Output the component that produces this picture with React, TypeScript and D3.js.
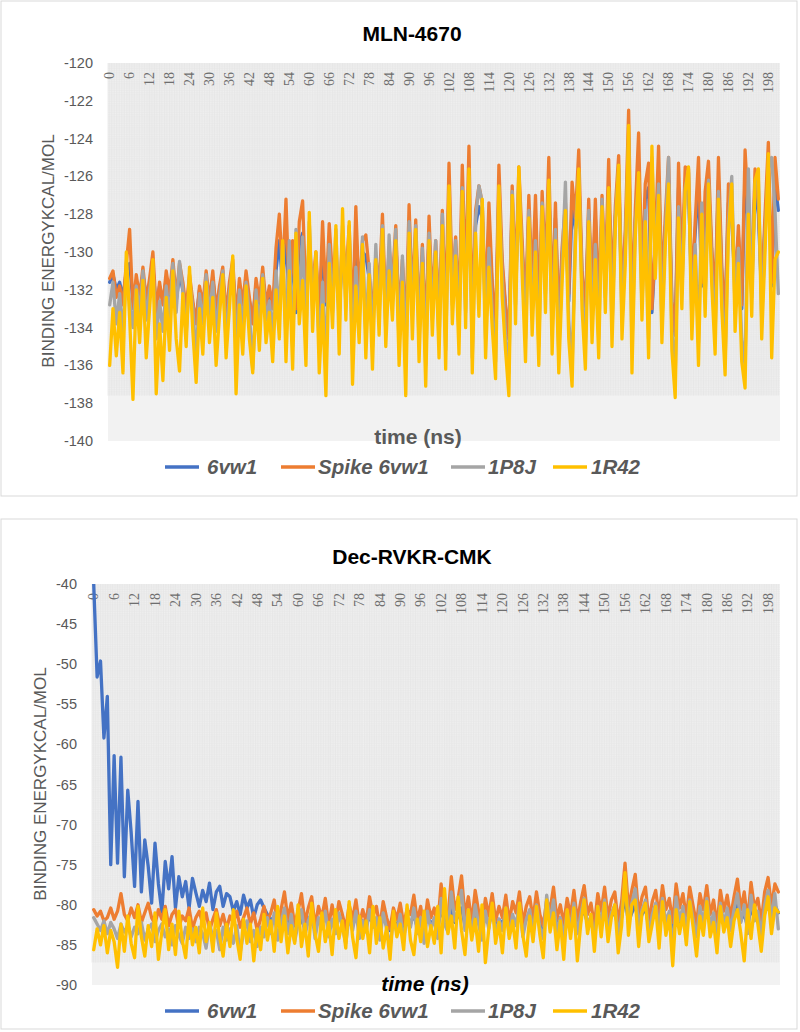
import React from "react";
import * as d3 from "d3";

// ---------- DATA ----------
const seriesNames = ["6vw1", "Spike 6vw1", "1P8J", "1R42"];
const xTickLabels = [0, 6, 12, 18, 24, 30, 36, 42, 48, 54, 60, 66, 72, 78, 84, 90, 96, 102, 108, 114, 120, 126, 132, 138, 144, 150, 156, 162, 168, 174, 180, 186, 192, 198];
const mlnYTicks = [-120, -122, -124, -126, -128, -130, -132, -134, -136, -138, -140];
const decYTicks = [-40, -45, -50, -55, -60, -65, -70, -75, -80, -85, -90];

// MLN-4670
const mlnBlue = [
  -131.6, -131.2, -132.0, -131.6, -132.4, -131.0, -130.6, -132.6, -131.6, -132.2,
  -131.2, -132.4, -131.8, -130.8, -133.0, -131.8, -132.6, -131.4, -132.4, -131.0,
  -132.6, -131.2, -132.0, -133.2, -131.6, -132.8, -133.6, -132.0, -132.8, -131.6,
  -132.8, -131.4, -133.0, -132.0, -131.4, -133.2, -132.0, -131.0, -133.4, -131.8,
  -132.8, -131.6, -132.6, -133.6, -131.8, -132.8, -131.4, -132.8, -132.0, -133.0,
  -131.0, -129.4, -131.8, -129.0, -132.8, -130.2, -133.2, -129.6, -129.0, -132.6,
  -130.2, -132.0, -130.6, -133.6, -129.6, -132.8, -129.6, -131.8, -130.4, -133.2,
  -129.8, -131.8, -129.6, -134.0, -129.0, -132.6, -130.0, -130.2, -131.4, -133.6,
  -130.8, -132.2, -129.4, -133.4, -130.2, -131.8, -129.4, -133.6, -130.8, -134.2,
  -129.0, -132.8, -129.4, -133.8, -130.2, -134.4, -129.2, -133.0, -130.0, -133.8,
  -129.0, -133.6, -127.0, -132.2, -129.8, -133.4, -127.2, -132.0, -126.6, -134.0,
  -128.6, -127.6, -128.2, -133.2, -128.4, -132.0, -134.2, -127.0, -130.8, -133.0,
  -134.6, -127.6, -131.8, -127.0, -130.0, -133.4, -128.0, -132.2, -128.2, -133.6,
  -128.0, -131.4, -126.6, -133.2, -128.2, -134.0, -130.2, -128.2, -132.6, -127.6,
  -128.8, -126.0, -131.4, -133.4, -128.0, -132.6, -128.2, -133.2, -128.0, -131.8,
  -126.6, -132.4, -128.2, -126.2, -132.6, -129.4, -124.6, -133.4, -128.4, -125.4,
  -131.6, -127.2, -126.6, -133.2, -130.0, -126.0, -132.2, -128.8, -126.2, -132.8,
  -134.4, -126.6, -131.4, -126.6, -126.8, -132.2, -129.0, -126.4, -131.8, -127.6,
  -126.4, -130.2, -132.8, -126.2, -131.2, -133.6, -127.4, -128.2, -132.0, -129.2,
  -133.0, -126.0, -128.6, -131.6, -126.6, -128.0, -132.4, -128.6, -125.8, -131.8,
  -126.4, -127.8,
];
const mlnOrange = [
  -131.4, -131.0, -132.4, -131.8, -132.8, -130.6, -128.8, -133.0, -131.2, -132.4,
  -130.8, -132.6, -131.4, -130.0, -133.2, -131.6, -132.8, -131.0, -132.2, -130.4,
  -132.4, -130.6, -131.6, -133.0, -131.2, -132.6, -133.8, -131.8, -132.8, -131.0,
  -132.6, -131.0, -133.2, -131.8, -130.8, -133.4, -131.6, -130.4, -133.6, -131.4,
  -132.8, -131.0, -132.4, -133.8, -131.4, -132.6, -130.8, -132.8, -131.8, -133.0,
  -129.8, -128.0, -131.2, -127.2, -132.6, -129.4, -133.0, -128.4, -127.3, -132.4,
  -129.6, -131.8, -130.0, -133.4, -128.4, -132.6, -128.5, -131.4, -129.8, -133.2,
  -129.0, -131.4, -128.6, -133.8, -127.6, -132.4, -129.4, -129.1, -131.0, -133.6,
  -130.2, -132.0, -128.0, -133.2, -129.8, -131.6, -128.6, -133.6, -130.4, -134.4,
  -127.5, -132.6, -128.3, -133.8, -129.6, -134.6, -128.1, -132.8, -129.4, -133.6,
  -127.8, -133.4, -125.3, -131.8, -129.2, -133.2, -125.4, -131.6, -124.4, -133.8,
  -127.8, -126.5, -127.4, -133.0, -127.4, -131.6, -134.2, -125.4, -130.4, -132.8,
  -134.6, -126.5, -131.6, -125.5, -129.4, -133.2, -127.0, -131.8, -127.0, -133.4,
  -126.8, -131.0, -125.0, -133.0, -127.4, -133.8, -129.8, -127.4, -132.2, -126.3,
  -128.2, -124.6, -131.0, -133.2, -127.2, -132.4, -127.2, -133.0, -127.0, -131.4,
  -125.1, -132.2, -127.6, -124.9, -132.4, -128.8, -122.5, -133.2, -127.8, -123.7,
  -131.4, -126.4, -125.3, -133.0, -129.6, -124.4, -132.0, -128.2, -125.0, -132.6,
  -134.4, -125.3, -131.0, -125.5, -125.6, -132.0, -128.4, -125.0, -131.6, -126.8,
  -125.2, -129.8, -132.6, -125.0, -130.8, -133.6, -126.4, -127.6, -131.8, -128.6,
  -132.8, -124.6, -128.0, -131.2, -125.6, -127.4, -132.2, -128.0, -124.2, -131.6,
  -125.0, -127.2,
];
const mlnGray = [
  -132.8, -131.6, -133.8, -132.2, -134.4, -131.0, -132.6, -134.0, -131.8, -133.2,
  -131.0, -133.6, -132.0, -130.8, -134.6, -132.6, -134.2, -131.8, -133.4, -130.6,
  -133.2, -130.5, -132.0, -134.4, -131.4, -133.0, -135.6, -132.2, -133.8, -131.2,
  -133.4, -131.6, -134.2, -132.4, -131.0, -134.8, -132.2, -130.6, -135.2, -132.0,
  -134.0, -131.6, -133.2, -136.2, -132.0, -134.0, -131.2, -133.6, -132.6, -134.4,
  -131.0, -133.2, -129.6, -134.6, -129.4, -135.0, -128.8, -132.6, -129.2, -134.6,
  -128.4, -133.0, -130.2, -135.2, -131.6, -136.0, -129.6, -133.2, -128.8, -134.0,
  -128.6, -132.8, -129.0, -135.4, -130.8, -133.6, -129.2, -134.4, -130.6, -135.0,
  -129.6, -133.4, -128.6, -134.2, -129.1, -132.6, -128.8, -135.0, -130.2, -136.0,
  -128.4, -133.2, -128.6, -134.8, -129.8, -136.0, -129.0, -133.6, -129.4, -134.8,
  -128.0, -135.2, -126.8, -132.8, -129.4, -134.4, -126.6, -133.2, -126.0, -135.6,
  -128.2, -126.5, -127.4, -134.6, -129.8, -133.2, -135.8, -126.6, -131.4, -134.4,
  -136.4, -126.8, -132.8, -126.2, -130.4, -134.6, -127.8, -133.4, -129.4, -135.0,
  -127.4, -132.2, -126.4, -134.4, -128.8, -135.4, -130.8, -126.3, -133.6, -136.2,
  -128.8, -125.8, -132.2, -135.0, -127.8, -133.8, -129.6, -134.6, -127.2, -132.4,
  -126.8, -134.0, -128.2, -125.6, -133.6, -129.8, -124.0, -135.0, -128.6, -126.2,
  -132.8, -127.8, -134.6, -125.0, -130.6, -126.4, -133.8, -129.2, -125.0, -134.2,
  -136.6, -127.6, -132.2, -126.6, -125.8, -133.6, -129.6, -134.8, -127.4, -132.4,
  -126.2, -131.0, -134.4, -126.8, -132.2, -135.8, -128.4, -126.0, -133.2, -129.8,
  -134.6, -136.0, -125.6, -132.4, -126.4, -126.2, -133.6, -129.2, -125.6, -125.0,
  -127.8, -132.2,
];
const mlnYellow = [
  -136.0, -133.0, -135.5, -133.2, -136.4, -130.0, -133.5, -137.8, -132.0, -134.8,
  -131.5, -135.6, -133.0, -130.4, -137.5, -133.8, -136.8, -132.4, -135.2, -131.0,
  -134.6, -136.3, -132.2, -135.0, -130.8, -134.2, -136.9, -133.0, -135.4, -131.6,
  -134.8, -132.4, -136.0, -133.4, -131.2, -135.6, -133.0, -130.2, -137.5, -132.8,
  -135.4, -131.8, -134.6, -136.4, -132.6, -135.2, -131.4, -134.8, -133.2, -135.8,
  -132.0, -134.6, -129.4, -135.8, -131.0, -136.2, -129.0, -133.8, -131.5, -136.0,
  -127.9, -134.2, -130.0, -136.4, -132.8, -137.6, -130.6, -134.0, -128.6, -135.4,
  -127.7, -133.6, -128.4, -137.0, -131.8, -134.8, -129.6, -135.6, -131.2, -136.2,
  -130.4, -134.4, -128.8, -135.0, -131.0, -133.6, -129.4, -136.0, -131.6, -137.6,
  -129.0, -134.6, -128.8, -135.8, -130.6, -137.1, -129.4, -134.4, -130.0, -135.6,
  -128.6, -136.2, -126.5, -133.8, -130.2, -135.4, -126.8, -134.0, -125.6, -136.4,
  -129.0, -133.4, -127.2, -135.6, -130.8, -134.0, -136.7, -126.5, -132.4, -135.2,
  -137.6, -127.0, -133.8, -125.5, -131.2, -135.8, -128.2, -134.4, -130.0, -136.0,
  -127.6, -133.2, -126.2, -135.4, -129.4, -136.4, -131.6, -127.8, -134.6, -137.1,
  -129.6, -125.6, -133.0, -136.2, -128.4, -134.8, -130.4, -135.6, -127.6, -133.2,
  -126.6, -135.0, -128.8, -125.4, -134.6, -130.6, -123.3, -136.4, -129.2, -125.8,
  -133.6, -128.4, -135.6, -124.4, -131.4, -127.0, -134.8, -129.8, -126.4, -135.2,
  -137.7, -128.2, -133.0, -126.8, -125.5, -134.6, -130.2, -136.0, -128.0, -133.4,
  -126.4, -131.8, -135.4, -127.2, -133.0, -136.5, -129.0, -126.4, -134.2, -130.6,
  -135.8, -137.2, -128.0, -133.4, -126.2, -125.6, -134.6, -130.0, -124.8, -135.6,
  -130.4, -130.0,
];

// Dec-RVKR-CMK
const decBlue = [
  -40.0, -51.6, -49.6, -59.2, -54.0, -75.0, -61.4, -74.8, -61.6, -76.5,
  -65.7, -71.0, -77.7, -67.1, -78.4, -71.9, -75.2, -79.8, -72.3, -77.4,
  -80.9, -74.6, -78.0, -74.0, -80.4, -76.5, -79.0, -77.1, -80.4, -76.7,
  -78.5, -80.2, -78.2, -79.6, -77.3, -80.6, -78.4, -77.7, -80.2, -78.6,
  -79.0, -80.8, -79.6, -81.2, -78.8, -80.4, -79.4, -81.6, -80.0, -79.4,
  -80.4, -81.2, -82.0, -81.4, -82.4, -81.6, -80.8, -82.2, -81.8, -82.6,
  -81.4, -82.0, -82.8, -81.6, -82.2, -83.0, -81.8, -82.4, -81.2, -82.8,
  -82.0, -82.6, -81.4, -82.2, -83.2, -81.8, -82.4, -81.6, -82.8, -82.0,
  -82.4, -81.6, -82.2, -81.8, -83.0, -81.4, -82.4, -83.2, -81.8, -82.6,
  -81.6, -82.8, -82.0, -82.4, -81.2, -82.8, -81.8, -83.0, -81.4, -82.4,
  -81.8, -82.8, -80.6, -82.0, -82.6, -80.2, -82.2, -81.4, -80.4, -82.6,
  -81.0, -82.8, -81.2, -82.2, -83.0, -81.4, -82.4, -81.0, -82.6, -81.8,
  -82.4, -81.2, -82.8, -81.6, -82.2, -80.8, -82.8, -81.8, -81.2, -82.6,
  -81.0, -82.2, -83.0, -80.6, -82.0, -80.6, -82.6, -81.6, -82.8, -81.4,
  -82.4, -80.8, -82.8, -81.6, -80.6, -82.4, -81.6, -82.8, -81.0, -82.0,
  -80.6, -82.4, -81.4, -81.0, -82.8, -81.6, -79.0, -82.2, -81.0, -80.0,
  -82.4, -81.2, -80.4, -82.8, -81.6, -80.6, -82.4, -80.4, -82.0, -81.4,
  -83.6, -80.4, -82.2, -81.0, -82.6, -80.4, -81.8, -83.0, -81.0, -82.0,
  -80.4, -82.4, -81.4, -83.0, -80.6, -82.2, -81.2, -82.6, -81.2, -80.0,
  -82.0, -81.0, -82.8, -80.2, -81.8, -81.4, -82.8, -81.0, -80.0, -81.6,
  -80.0, -81.0,
];
const decOrange = [
  -80.6, -81.4, -80.8, -82.0, -81.6, -80.4, -81.8, -80.8, -78.6, -81.2,
  -82.0, -80.4, -81.6, -80.0, -82.2, -81.0, -79.8, -81.6, -82.4, -80.6,
  -81.8, -80.2, -82.6, -81.2, -80.6, -82.8, -81.4, -82.0, -80.4, -83.0,
  -81.6, -80.8, -82.4, -81.0, -83.2, -81.8, -80.6, -82.6, -81.2, -83.0,
  -81.4, -82.2, -80.8, -82.8, -81.6, -80.4, -82.4, -81.0, -83.2, -81.8,
  -80.2, -82.0, -81.0, -79.4, -82.6, -80.6, -78.4, -81.8, -79.8, -82.4,
  -80.8, -78.6, -82.2, -80.4, -79.0, -82.8, -80.2, -81.6, -79.2, -82.6,
  -80.0, -82.4, -79.6, -81.2, -83.0, -80.0, -81.8, -79.4, -82.6, -80.6,
  -82.2, -79.0, -81.4, -80.2, -82.8, -79.6, -81.6, -83.0, -80.4, -81.8,
  -79.8, -82.4, -80.6, -81.2, -78.8, -82.0, -80.2, -83.0, -79.4, -81.6,
  -80.4, -82.6, -77.4, -80.8, -81.8, -76.5, -80.6, -79.2, -76.4, -81.4,
  -79.0, -82.2, -78.2, -80.8, -82.8, -79.2, -81.4, -78.6, -82.0, -80.2,
  -81.6, -78.8, -82.2, -79.6, -81.0, -78.4, -82.4, -80.2, -79.0, -81.8,
  -78.4, -81.2, -82.6, -79.4, -80.6, -77.8, -81.8, -80.0, -82.4, -79.2,
  -81.4, -78.2, -82.0, -79.6, -77.6, -81.2, -79.8, -82.6, -78.6, -80.8,
  -77.8, -81.6, -79.4, -78.4, -82.2, -79.6, -74.8, -80.4, -78.2, -76.2,
  -81.2, -79.0, -77.8, -82.0, -79.6, -78.2, -81.4, -77.6, -80.6, -79.2,
  -82.2, -77.4, -80.4, -78.6, -81.6, -77.8, -80.2, -82.4, -78.6, -80.6,
  -77.6, -81.2, -79.4, -82.6, -78.2, -80.8, -78.8, -81.6, -79.0, -76.8,
  -80.6, -78.4, -82.0, -77.2, -80.4, -79.2, -82.2, -78.4, -76.6, -80.2,
  -77.4, -78.4,
];
const decGray = [
  -81.6, -82.4, -83.2, -82.0, -83.6, -82.2, -83.0, -84.2, -82.4, -83.4,
  -82.6, -84.0, -82.8, -83.6, -82.2, -84.4, -83.0, -82.4, -84.6, -83.2,
  -82.4, -84.0, -83.0, -85.0, -82.6, -83.8, -84.8, -82.8, -84.2, -83.0,
  -84.6, -82.8, -83.6, -85.4, -82.4, -84.0, -83.2, -85.6, -82.8, -84.4,
  -83.0, -84.8, -82.6, -86.0, -83.4, -82.0, -84.6, -83.2, -85.2, -82.8,
  -84.0, -81.6, -83.6, -81.0, -84.4, -82.2, -80.4, -83.6, -81.2, -84.6,
  -82.4, -80.6, -83.8, -82.0, -80.8, -84.2, -81.6, -83.0, -80.8, -84.0,
  -81.8, -83.6, -81.0, -82.8, -84.8, -81.4, -83.2, -80.8, -84.2, -82.0,
  -83.4, -80.6, -82.8, -81.6, -84.4, -81.0, -83.0, -85.2, -81.8, -83.4,
  -81.2, -84.0, -82.0, -82.8, -80.4, -83.6, -81.6, -84.8, -80.8, -83.2,
  -81.6, -84.2, -79.2, -82.4, -83.4, -78.4, -82.0, -80.6, -78.2, -83.2,
  -80.6, -83.8, -80.0, -82.4, -84.4, -80.8, -83.0, -80.2, -83.6, -81.8,
  -83.2, -80.4, -83.8, -81.2, -82.6, -79.8, -84.0, -81.8, -80.6, -83.4,
  -80.0, -82.8, -84.2, -78.8, -82.2, -79.4, -83.4, -81.6, -84.0, -80.8,
  -83.0, -79.8, -83.6, -81.2, -79.2, -82.8, -81.4, -84.2, -80.2, -82.4,
  -79.4, -83.2, -81.0, -80.0, -83.8, -81.2, -76.6, -82.0, -79.8, -78.0,
  -82.8, -80.6, -79.4, -83.6, -81.2, -79.8, -83.0, -79.2, -82.2, -80.8,
  -85.8, -79.0, -82.0, -80.2, -83.2, -79.4, -81.8, -84.0, -80.2, -82.2,
  -79.2, -82.8, -81.0, -84.2, -79.8, -82.4, -80.4, -83.2, -80.6, -78.6,
  -82.2, -80.0, -83.6, -78.8, -82.0, -80.8, -83.8, -80.0, -78.2, -81.8,
  -78.6, -83.0,
];
const decYellow = [
  -85.6, -83.0, -85.0, -82.6, -86.0, -83.2, -84.6, -87.8, -82.4, -85.8,
  -81.4, -84.8, -86.6, -80.2, -84.0, -86.4, -82.6, -85.2, -81.0, -86.8,
  -83.4, -80.6, -85.6, -82.4, -86.2, -80.8, -84.4, -86.6, -81.6, -85.0,
  -82.8, -86.0, -80.4, -84.6, -82.2, -85.8, -81.0, -84.0, -86.4, -82.4,
  -85.2, -80.6, -84.2, -86.8, -81.8, -84.8, -82.4, -87.0, -83.0, -85.6,
  -81.2, -84.4, -82.0, -85.8, -80.2, -84.6, -81.4, -86.0, -82.6, -84.8,
  -80.0, -85.2, -82.4, -86.4, -79.8, -83.6, -85.8, -81.0, -84.6, -82.2,
  -86.2, -80.6, -84.2, -82.0, -85.4, -79.6, -84.0, -86.6, -81.4, -84.2,
  -82.0, -86.0, -80.2, -84.8, -81.6, -85.4, -82.8, -86.8, -80.8, -84.0,
  -82.4, -85.6, -80.0, -84.4, -86.2, -81.8, -84.6, -80.8, -85.2, -82.6,
  -84.8, -80.2, -86.0, -78.0, -83.6, -81.4, -85.4, -79.0, -83.2, -86.2,
  -80.6, -84.4, -81.8, -85.8, -80.0, -87.2, -83.0, -79.8, -84.8, -82.2,
  -86.0, -80.4, -84.2, -82.0, -85.4, -79.8, -83.8, -86.4, -81.4, -84.6,
  -80.2, -83.8, -86.6, -79.4, -83.4, -81.0, -85.6, -82.0, -86.8, -80.6,
  -84.2, -80.4, -87.0, -82.4, -79.4, -83.6, -81.2, -85.8, -80.2, -84.0,
  -79.8, -84.6, -81.6, -80.0, -86.0, -82.6, -76.0, -83.8, -80.0, -79.4,
  -85.2, -81.0, -79.8, -84.6, -82.4, -80.2, -85.4, -79.6, -83.8, -81.4,
  -87.6, -80.6, -83.6, -81.2, -85.0, -79.6, -82.8, -86.4, -81.4, -83.8,
  -79.6, -84.0, -82.2, -86.0, -80.2, -83.4, -81.6, -85.2, -82.0, -80.6,
  -83.6, -87.0, -80.6, -84.2, -80.0, -82.4, -85.8, -81.4, -79.0, -83.6,
  -80.4, -80.9,
];

// ---------- STYLE / LAYOUT ----------
const COLORS = ["#4472C4", "#ED7D31", "#A5A5A5", "#FFC000"];
const SANS = "'Liberation Sans', Arial, sans-serif";
const SERIF = "'Liberation Serif', 'Times New Roman', serif";
const LEGEND_LINE_X = [165, 281, 451, 553];
const LEGEND_TEXT_X = [207, 318, 488, 591];

type PanelCfg = {
  title: string;
  series: number[][];
  yTicks: number[];
  yDomain: [number, number];
  textureLow: number;
  box: { x: number; y: number; w: number; h: number };
  plot: { left: number; right: number; top: number; bottom: number };
  titleY: number;
  yTitleX: number;
  yTitleCY: number;
  xTitleY: number;
  xTitleX: number;
  xTitleItalic: boolean;
  xTitleColor: string;
  legendY: number;
};

function Panel({ cfg }: { cfg: PanelCfg }) {
  const { left, right, top, bottom } = cfg.plot;
  const cats = cfg.series[3].map((_, i) => i);
  const x = d3.scalePoint<number>().domain(cats).range([left, right]).padding(0.5);
  const y = d3.scaleLinear().domain(cfg.yDomain).range([bottom, top]);
  const step = x.step();
  const line = d3
    .line<number>()
    .x((_, i) => x(i) as number)
    .y((d) => y(d));
  const texBottom = y(cfg.textureLow);
  const clipId = "clip-" + cfg.title.replace(/[^a-z0-9]/gi, "");

  const vLines: number[] = [];
  for (let i = 0; i < cats.length; i++) {
    vLines.push(left + i * step);
    vLines.push(left + (i + 0.5) * step);
  }
  const hLines: number[] = [];
  for (let yy = top + 1; yy < texBottom; yy += 2.2) hLines.push(yy);

  return (
    <g>
      <rect x={cfg.box.x} y={cfg.box.y} width={cfg.box.w} height={cfg.box.h} fill="#fff" stroke="#d9d9d9" strokeWidth={1} />
      <text x={412} y={cfg.titleY} textAnchor="middle" fontFamily={SANS} fontWeight="bold" fontSize={21} fill="#000">
        {cfg.title}
      </text>
      <defs>
        <clipPath id={clipId}>
          <rect x={left} y={top} width={right - left} height={bottom - top} />
        </clipPath>
      </defs>
      <rect x={left} y={top} width={right - left} height={bottom - top} fill="#f2f2f2" />
      <g>
        {vLines.map((vx, i) => (
          <line key={"v" + i} x1={vx} x2={vx} y1={top} y2={texBottom} stroke="#e0e0e0" strokeWidth={0.6} />
        ))}
        {hLines.map((hy, i) => (
          <line key={"h" + i} x1={left} x2={right} y1={hy} y2={hy} stroke="#e6e6e6" strokeWidth={0.5} />
        ))}
      </g>
      {cfg.yTicks.map((t) => (
        <text key={t} x={left - 15} y={y(t)} dy="0.35em" textAnchor="end" fontFamily={SANS} fontSize={14.5} fill="#595959">
          {t}
        </text>
      ))}
      {xTickLabels.map((t) => (
        <text
          key={t}
          transform={`translate(${x(t)},${top + 9}) rotate(-90)`}
          dy="0.34em"
          textAnchor="end"
          fontFamily={SERIF}
          fontSize={14}
          fill="#6e6e6e"
        >
          {t}
        </text>
      ))}
      <g clipPath={`url(#${clipId})`}>
        {cfg.series.map((s, k) => (
          <path key={k} d={line(s) || ""} fill="none" stroke={COLORS[k]} strokeWidth={3.3} strokeLinejoin="round" strokeLinecap="round" />
        ))}
      </g>
      <text
        transform={`translate(${cfg.yTitleX},${cfg.yTitleCY}) rotate(-90)`}
        textAnchor="middle"
        fontFamily={SANS}
        fontSize={17}
        fill="#595959"
      >
        BINDING ENERGYKCAL/MOL
      </text>
      <text
        x={cfg.xTitleX}
        y={cfg.xTitleY}
        textAnchor="middle"
        fontFamily={SANS}
        fontWeight="bold"
        fontStyle={cfg.xTitleItalic ? "italic" : "normal"}
        fontSize={21}
        fill={cfg.xTitleColor}
      >
        time (ns)
      </text>
      {seriesNames.map((n, k) => (
        <g key={n}>
          <line x1={LEGEND_LINE_X[k]} x2={LEGEND_LINE_X[k] + 34} y1={cfg.legendY} y2={cfg.legendY} stroke={COLORS[k]} strokeWidth={3.5} />
          <text x={LEGEND_TEXT_X[k]} y={cfg.legendY} dy="0.36em" fontFamily={SANS} fontWeight="bold" fontStyle="italic" fontSize={20.5} fill="#595959">
            {n}
          </text>
        </g>
      ))}
    </g>
  );
}

const panels: PanelCfg[] = [
  {
    title: "MLN-4670",
    series: [mlnBlue, mlnOrange, mlnGray, mlnYellow],
    yTicks: mlnYTicks,
    yDomain: [-140, -120],
    textureLow: -137.6,
    box: { x: 1, y: 1, w: 796, h: 495 },
    plot: { left: 108, right: 780, top: 63, bottom: 441 },
    titleY: 41,
    yTitleX: 54,
    yTitleCY: 251,
    xTitleY: 444,
    xTitleX: 418,
    xTitleItalic: false,
    xTitleColor: "#595959",
    legendY: 467,
  },
  {
    title: "Dec-RVKR-CMK",
    series: [decBlue, decOrange, decGray, decYellow],
    yTicks: decYTicks,
    yDomain: [-90, -40],
    textureLow: -87.2,
    box: { x: 1, y: 519, w: 796, h: 510 },
    plot: { left: 92, right: 780, top: 584, bottom: 985 },
    titleY: 564,
    yTitleX: 46,
    yTitleCY: 784,
    xTitleY: 991,
    xTitleX: 425,
    xTitleItalic: true,
    xTitleColor: "#000",
    legendY: 1011,
  },
];

export default function App() {
  return (
    <svg width={800} height={1032} style={{ position: "absolute", left: 0, top: 0, background: "#fff" }}>
      {panels.map((p) => (
        <Panel key={p.title} cfg={p} />
      ))}
    </svg>
  );
}
